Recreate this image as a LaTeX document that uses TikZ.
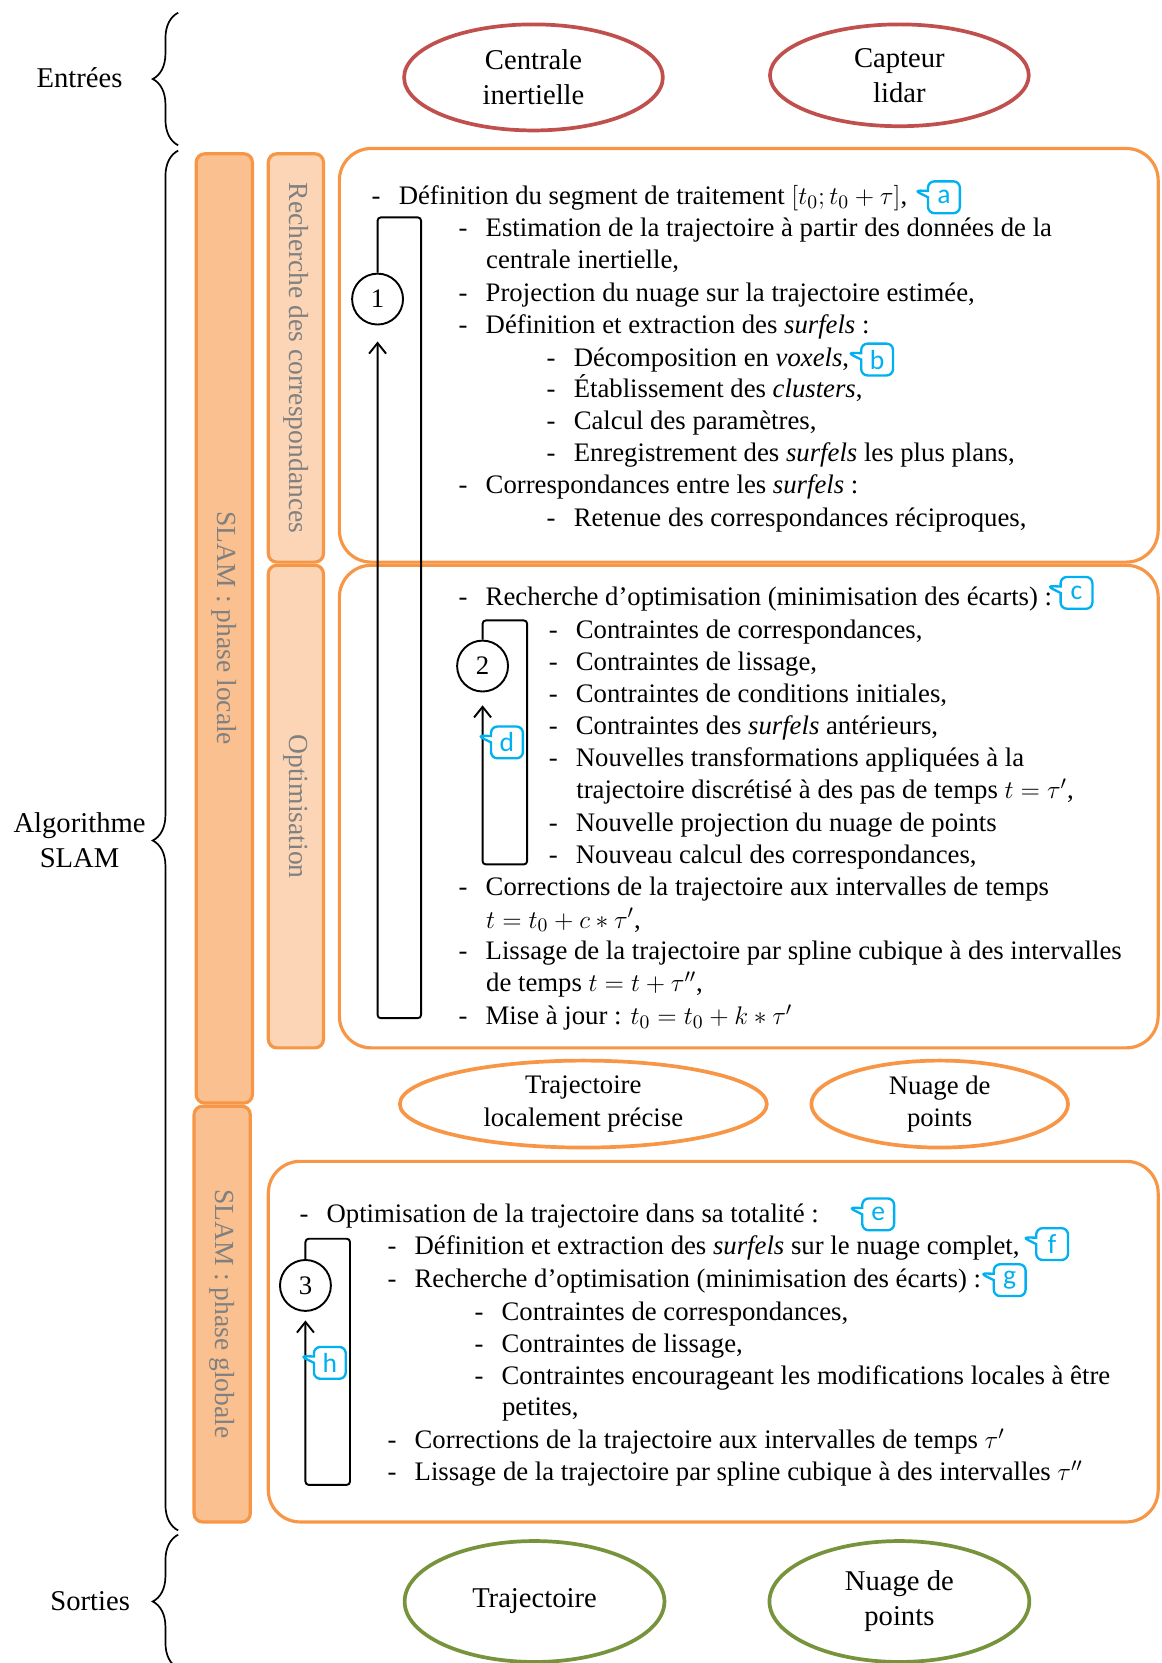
\documentclass[tikz,border=0pt]{standalone}
\usepackage{fontspec}
\setmainfont{Liberation Serif}
\newfontfamily\lettrefont{Carlito}
\usetikzlibrary{arrows.meta,decorations.pathreplacing,shapes.geometric,shapes.callouts}

\definecolor{orangeb}{HTML}{F79646}
\definecolor{orangef}{HTML}{FAC090}
\definecolor{orangec}{HTML}{FBD5B5}
\definecolor{rouge}{HTML}{C0504D}
\definecolor{vert}{HTML}{77933C}
\definecolor{bleu}{HTML}{00B0F0}
\definecolor{grisbar}{HTML}{808080}

\newcommand\corps{\fontsize{12.6}{15.2}\selectfont}
\newcommand\titre{\fontsize{13.5}{16.5}\selectfont}
\newcommand\tiret{\makebox[12.8pt][l]{-}}

\begin{document}
\begin{tikzpicture}[x=0.5pt,y=-0.5pt,>={Straight Barb[length=5pt,width=8pt]},
    ligne/.style={anchor=base west,inner sep=0pt,font=\corps},
    label/.style={align=center,font=\titre},
    accolade/.style={decorate,decoration={brace,amplitude=12pt},line width=0.8pt},
    bulle/.style={ellipse,line width=1.75pt,align=center,inner sep=0pt},
    barre/.style={rotate=-90,draw=orangeb,line width=1.5pt,rounded corners=4pt,
        text=grisbar,font=\fontsize{13}{13}\selectfont,inner sep=0pt},
    boite/.style={draw=orangeb,line width=1.5pt,rounded corners=15pt},
    etape/.style={circle,draw,line width=0.9pt,minimum size=24pt,inner sep=0pt,font=\corps},
    boucle/.style={line width=0.9pt,rounded corners=1.5pt},
    lettre/.style={rectangle callout,draw=bleu,text=bleu,line width=1.1pt,rounded corners=3pt,
        minimum width=15pt,minimum height=15pt,inner sep=0pt,
        font=\lettrefont\fontsize{13}{13}\selectfont,
        callout relative pointer={(-13,-3)},callout pointer width=3pt}]
    \useasboundingbox (0,0) rectangle (1095,1568);
    \clip (0,0) rectangle (1095,1568);

    % accolades et titres
    \draw[accolade] (168,137) -- (168,12);
    \draw[accolade] (168,1443) -- (168,142);
    \draw[accolade] (168,1573) -- (168,1447);
    \node[label] (entrees) at (75,73) {Entrées};
    \node[label] (algo) at (75,792) {Algorithme\\SLAM};
    \node[label] (sorties) at (85,1510) {Sorties};

    % capteurs
    \node[bulle,draw=rouge,font=\titre,minimum width=122pt,minimum height=50pt] (imu) at (503,73) {Centrale\\inertielle};
    \node[bulle,draw=rouge,font=\titre,minimum width=122pt,minimum height=48pt] (lidar) at (848,71) {Capteur\\lidar};

    % colonnes
    \node[barre,fill=orangef,minimum width=447.5pt,minimum height=26.5pt] (locale) at (211.5,592.5) {SLAM : phase locale};
    \node[barre,fill=orangef,minimum width=196pt,minimum height=26.5pt] (globale) at (209.5,1239) {SLAM : phase globale};
    \node[barre,fill=orangec,minimum width=192.5pt,minimum height=26pt] (recherche) at (279,337.5) {Recherche des correspondances};
    \node[barre,fill=orangec,minimum width=227.5pt,minimum height=26pt] (optim) at (279,760.5) {Optimisation};

    \draw[boite] (320,140) rectangle (1092,530);
    \draw[boite] (320,533) rectangle (1092,988);
    \draw[boite] (253,1095) rectangle (1092,1435);

    % phase locale : correspondances
    \foreach \x/\y/\t [count=\i] in {
        350/185/{\tiret Définition du segment de traitement $[t_0; t_0+\tau]$,},
        432/215/{\tiret Estimation de la trajectoire à partir des données de la},
        458/245/{centrale inertielle,},
        432/276/{\tiret Projection du nuage sur la trajectoire estimée,},
        432/306/{\tiret Définition et extraction des \textit{surfels} :},
        515/338/{\tiret Décomposition en \textit{voxels},},
        515/367/{\tiret Établissement des \textit{clusters},},
        515/397/{\tiret Calcul des paramètres,},
        515/427/{\tiret Enregistrement des \textit{surfels} les plus plans,},
        432/457/{\tiret Correspondances entre les \textit{surfels} :},
        515/488/{\tiret Retenue des correspondances réciproques,}}
        \node[ligne] (ra\i) at (\x,\y+8) {\t};

    % phase locale : optimisation
    \foreach \x/\y/\t [count=\i] in {
        432/563/{\tiret Recherche d’optimisation (minimisation des écarts) :},
        517/594/{\tiret Contraintes de correspondances,},
        517/624/{\tiret Contraintes de lissage,},
        517/654/{\tiret Contraintes de conditions initiales,},
        517/685/{\tiret Contraintes des \textit{surfels} antérieurs,},
        517/715/{\tiret Nouvelles transformations appliquées à la},
        543/745/{trajectoire discrétisé à des pas de temps $t=\tau'$,},
        517/776/{\tiret Nouvelle projection du nuage de points},
        517/806/{\tiret Nouveau calcul des correspondances,},
        432/836/{\tiret Corrections de la trajectoire aux intervalles de temps},
        458/867/{$t=t_0+c*\tau'$,},
        432/897/{\tiret Lissage de la trajectoire par spline cubique à des intervalles},
        458/927/{de temps $t=t+\tau''$,},
        432/958/{\tiret Mise à jour : $t_0=t_0+k*\tau'$}}
        \node[ligne] (rb\i) at (\x,\y+8) {\t};

    % phase globale
    \foreach \x/\y/\t [count=\i] in {
        282/1145/{\tiret Optimisation de la trajectoire dans sa totalité :},
        365/1175/{\tiret Définition et extraction des \textit{surfels} sur le nuage complet,},
        365/1206/{\tiret Recherche d’optimisation (minimisation des écarts) :},
        447/1237/{\tiret Contraintes de correspondances,},
        447/1267/{\tiret Contraintes de lissage,},
        447/1297/{\tiret Contraintes encourageant les modifications locales à être},
        473/1327/{petites,},
        365/1358/{\tiret Corrections de la trajectoire aux intervalles de temps $\tau'$},
        365/1388/{\tiret Lissage de la trajectoire par spline cubique à des intervalles $\tau''$}}
        \node[ligne] (rc\i) at (\x,\y+8) {\t};

    % boucles
    \node[etape] (c1) at (356,282) {1};
    \node[etape] (c2) at (455,628) {2};
    \node[etape] (c3) at (288,1212) {3};
    \coordinate (f1) at (356,322);
    \coordinate (f2) at (455,665);
    \coordinate (f3) at (288,1245);
    \draw[boucle,->] (c1.north) |- (397,205) |- (f1 |- 0,960) -- (f1);
    \draw[boucle,->] (c2.north) |- (497,585) |- (f2 |- 0,815) -- (f2);
    \draw[boucle,->] (c3.north) |- (330,1168) |- (f3 |- 0,1400) -- (f3);

    % renvois
    \node[lettre] (la) at (890,186) {a};
    \node[lettre] (lb) at (827,339) {b};
    \node[lettre] (lc) at (1015,559) {c};
    \node[lettre] (ld) at (478,700) {d};
    \node[lettre] (le) at (828,1145) {e};
    \node[lettre] (lf) at (992,1173) {f};
    \node[lettre] (lg) at (952,1207) {g};
    \node[lettre] (lh) at (311,1285) {h};

    % resultats
    \node[bulle,draw=orangeb,font=\corps,minimum width=173pt,minimum height=41pt] (trajloc) at (550,1041) {Trajectoire\\localement précise};
    \node[bulle,draw=orangeb,font=\corps,minimum width=121pt,minimum height=41pt] (nuageloc) at (886,1041) {Nuage de\\points};
    \node[bulle,draw=vert,font=\titre,minimum width=122.5pt,minimum height=57pt] (traj) at (504,1510) {Trajectoire};
    \node[bulle,draw=vert,font=\titre,minimum width=122.5pt,minimum height=57pt] (nuage) at (848,1510) {Nuage de\\points};
\end{tikzpicture}
\end{document}
